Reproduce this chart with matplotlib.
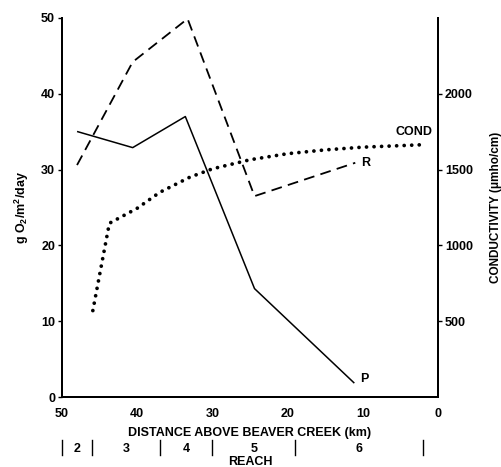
import matplotlib
matplotlib.use("Agg")
import matplotlib.pyplot as plt
import matplotlib.transforms as mtransforms

plt.rcParams['font.family'] = ['Liberation Sans', 'DejaVu Sans']
plt.rcParams['mathtext.default'] = 'regular'

# Data
km_R = [48.0, 40.6, 33.3, 24.4, 11.0]
val_R = [30.6, 44.2, 49.9, 26.5, 30.9]
km_P = [47.9, 40.6, 33.6, 24.4, 11.2]
val_P = [35.0, 32.9, 37.0, 14.3, 1.9]
km_cond = [45.9, 43.7, 40.0, 37.0, 33.0, 30.0, 25.0, 20.0, 15.0, 10.0, 5.0, 1.6]
val_cond = [570, 1146, 1245, 1350, 1450, 1505, 1565, 1605, 1630, 1648, 1658, 1665]
reach_bounds = [50, 46, 37, 30, 19, 2]
reach_labels = ['2', '3', '4', '5', '6']
x_ticks = [50, 40, 30, 20, 10, 0]
y_ticks = [0, 10, 20, 30, 40, 50]
cond_ticks = [500, 1000, 1500, 2000]

fig = plt.figure(figsize=(5.01, 4.67), dpi=100)
ax = fig.add_axes([62/501, 1-397/467, (438-62)/501, (397-18)/467])
ax2 = ax.twinx()

fs = 9
ax.plot(km_R, val_R, color='black', lw=1.3, dashes=(6, 3.5))
ax.plot(km_P, val_P, color='black', lw=1.1)
ax2.plot(km_cond, val_cond, color='black', lw=2.7,
         linestyle=(0, (0.01, 2.0)), dash_capstyle='round', solid_capstyle='round')

ax.set_xlim(50, 0)
ax.set_ylim(0, 50)
ax2.set_ylim(0, 2500)

ax.set_xticks(x_ticks)
ax.set_yticks(y_ticks)
ax2.set_yticks(cond_ticks)
for a in (ax, ax2):
    a.spines['top'].set_visible(False)
    for s in a.spines.values():
        s.set_linewidth(1.4)
ax.tick_params(axis='x', length=0, pad=8, labelsize=fs)
ax.tick_params(axis='y', length=3, width=1, pad=2, labelsize=fs)
ax2.tick_params(axis='y', length=3, width=1, pad=2, labelsize=fs)
for lab in ax.get_xticklabels() + ax.get_yticklabels() + ax2.get_yticklabels():
    lab.set_fontweight('bold')

ax.set_xlabel('DISTANCE ABOVE BEAVER CREEK (km)', fontsize=fs, fontweight='bold', labelpad=5)
ax.set_ylabel('g O$_2$/m$^2$/day', fontsize=fs, fontweight='bold', labelpad=7)
ax2.set_ylabel('CONDUCTIVITY (μmho/cm)', fontsize=8.5, fontweight='bold', labelpad=12)

# line labels
ax.text(km_R[-1] - 0.8, val_R[-1], 'R', fontsize=fs, fontweight='bold', va='center', ha='left')
ax.text(km_P[-1] - 0.8, val_P[-1] + 0.5, 'P', fontsize=fs, fontweight='bold', va='center', ha='left')
ax2.text(km_cond[-1] + 1.6, val_cond[-1] + 85, 'COND', fontsize=fs, fontweight='bold',
         va='center', ha='center')

# reach row
trans = mtransforms.blended_transform_factory(ax.transData, fig.transFigure)
for b in reach_bounds:
    ax.plot([b, b], [1-440/467, 1-455/467], transform=trans, color='black',
            lw=1.0, clip_on=False)
for i, lab in enumerate(reach_labels):
    mid = (reach_bounds[i] + reach_bounds[i+1]) / 2
    ax.text(mid, 1-449/467, lab, transform=trans, fontsize=fs, fontweight='bold',
            ha='center', va='center')
ax.text(25, 1-462/467, 'REACH', transform=trans, fontsize=fs, fontweight='bold',
        ha='center', va='center')

fig.savefig('out.png', dpi=100)
